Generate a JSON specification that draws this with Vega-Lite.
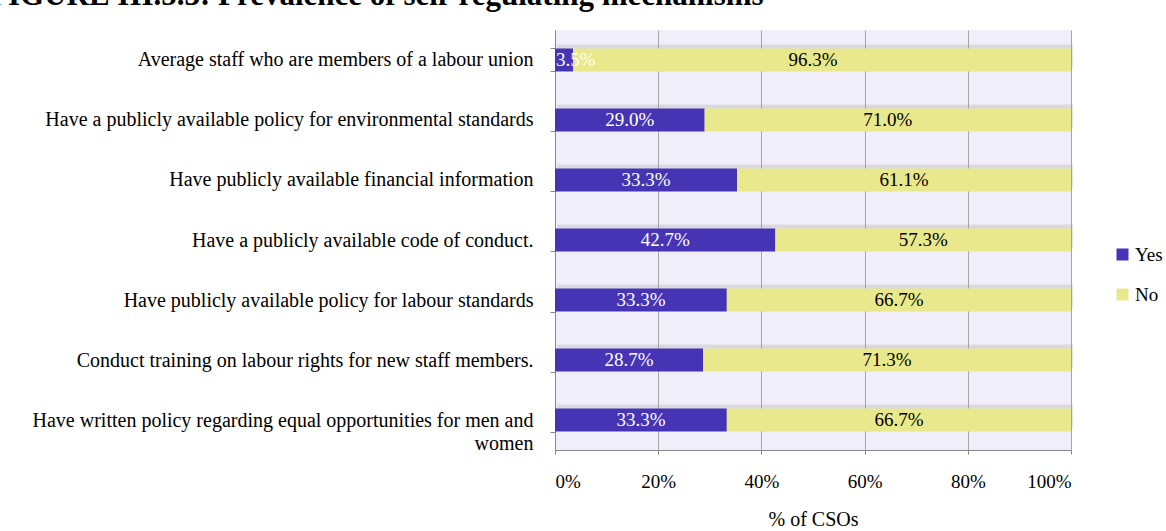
{
  "$schema": "https://vega.github.io/schema/vega-lite/v6.json",
  "autosize": "none",
  "width": 516,
  "height": 420,
  "padding": {"left": 555, "top": 30, "right": 95, "bottom": 81},
  "background": "white",
  "title": {
    "text": "FIGURE III.5.3: Prevalence of self-regulating mechanisms",
    "font": "Liberation Serif",
    "fontSize": 31,
    "fontWeight": "bold",
    "color": "black",
    "anchor": "start",
    "frame": "group",
    "baseline": "alphabetic",
    "offset": 0,
    "dy": 16,
    "dx": -566
  },
  "data": {
    "values": [
      {"item": "Average staff who are members of a labour union", "answer": "Yes", "share": 0.035},
      {"item": "Average staff who are members of a labour union", "answer": "No", "share": 0.963},
      {"item": "Have a publicly available policy for environmental standards", "answer": "Yes", "share": 0.29},
      {"item": "Have a publicly available policy for environmental standards", "answer": "No", "share": 0.71},
      {"item": "Have publicly available financial information", "answer": "Yes", "share": 0.333},
      {"item": "Have publicly available financial information", "answer": "No", "share": 0.611},
      {"item": "Have a publicly available code of conduct.", "answer": "Yes", "share": 0.427},
      {"item": "Have a publicly available code of conduct.", "answer": "No", "share": 0.573},
      {"item": "Have publicly available policy for labour standards", "answer": "Yes", "share": 0.333},
      {"item": "Have publicly available policy for labour standards", "answer": "No", "share": 0.667},
      {"item": "Conduct training on labour rights for new staff members.", "answer": "Yes", "share": 0.287},
      {"item": "Conduct training on labour rights for new staff members.", "answer": "No", "share": 0.713},
      {"item": "Have written policy regarding equal opportunities for men and women", "answer": "Yes", "share": 0.333},
      {"item": "Have written policy regarding equal opportunities for men and women", "answer": "No", "share": 0.667}
    ]
  },
  "encoding": {
    "y": {
      "field": "item",
      "type": "nominal",
      "sort": null,
      "scale": {"paddingInner": 0.617, "paddingOuter": 0.308},
      "axis": {
        "title": null,
        "tickBand": "extent",
        "tickSize": 5,
        "tickColor": "#888888",
        "domainColor": "#888888",
        "labelFont": "Liberation Serif",
        "labelFontSize": 20,
        "labelColor": "black",
        "labelPadding": 17,
        "labelLimit": 600,
        "labelLineHeight": 23,
        "labelExpr": "datum.value == 'Have written policy regarding equal opportunities for men and women' ? ['Have written policy regarding equal opportunities for men and', pad('women', 50, '\u00a0', 'right')] : datum.label"
      }
    }
  },
  "layer": [
    {
      "mark": {"type": "bar", "color": "#999999", "opacity": 0.25, "yOffset": -4, "xOffset": 2},
      "encoding": {
        "x": {"field": "share", "type": "quantitative", "stack": "normalize"},
        "order": {"field": "answer", "sort": "descending"},
        "detail": {"field": "answer"}
      }
    },
    {
      "mark": {"type": "bar"},
      "encoding": {
        "x": {
          "field": "share",
          "type": "quantitative",
          "stack": "normalize",
          "scale": {"domain": [0, 1], "nice": false},
          "axis": {
            "title": "% of CSOs",
            "titleFont": "Liberation Serif",
            "titleFontSize": 20,
            "titleFontWeight": "normal",
            "titleColor": "black",
            "titlePadding": 18,
            "format": ".0%",
            "values": [0, 0.2, 0.4, 0.6, 0.8, 1],
            "labelFont": "Liberation Serif",
            "labelFontSize": 19,
            "labelColor": "black",
            "labelPadding": 18,
            "tickSize": 4,
            "tickColor": "#888888",
            "domainColor": "#888888",
            "grid": true,
            "gridColor": "#A6A6A6",
            "gridWidth": 1
          }
        },
        "color": {
          "field": "answer",
          "type": "nominal",
          "scale": {"domain": ["Yes", "No"], "range": ["#4535B5", "#EAE88C"]},
          "legend": {
            "title": null,
            "orient": "none",
            "legendX": 558,
            "legendY": 215,
            "padding": 0,
            "symbolType": "square",
            "symbolSize": 144,
            "symbolStrokeWidth": 0,
            "labelFont": "Liberation Serif",
            "labelFontSize": 19,
            "labelColor": "black",
            "labelOffset": 3,
            "rowPadding": 20,
            "encode": {
              "symbols": {"update": {"fill": {"signal": "datum.value == 'No' ? '#FFFF99' : '#4535B5'"}, "opacity": {"value": 1}}}
            }
          }
        },
        "order": {"field": "answer", "sort": "descending"}
      }
    },
    {
      "transform": [{"filter": "datum.share >= 0.05"}],
      "mark": {"type": "text", "font": "Liberation Serif", "fontSize": 19, "align": "center", "baseline": "middle"},
      "encoding": {
        "x": {"field": "share", "type": "quantitative", "stack": "normalize", "bandPosition": 0.5},
        "text": {"field": "share", "type": "quantitative", "format": ".1%"},
        "detail": {"field": "answer"},
        "order": {"field": "answer", "sort": "descending"},
        "color": {"condition": {"test": "datum.answer == 'Yes'", "value": "white"}, "value": "black"}
      }
    },
    {
      "transform": [{"filter": "datum.share < 0.05"}],
      "mark": {"type": "text", "font": "Liberation Serif", "fontSize": 19, "align": "left", "baseline": "middle", "dx": 1, "color": "white"},
      "encoding": {
        "x": {"field": "share", "type": "quantitative", "stack": "normalize", "bandPosition": 0},
        "text": {"field": "share", "type": "quantitative", "format": ".1%"}
      }
    }
  ],
  "config": {
    "view": {"fill": "#F0EFF9", "stroke": null},
    "axis": {"gridColor": "#A6A6A6"}
  }
}
